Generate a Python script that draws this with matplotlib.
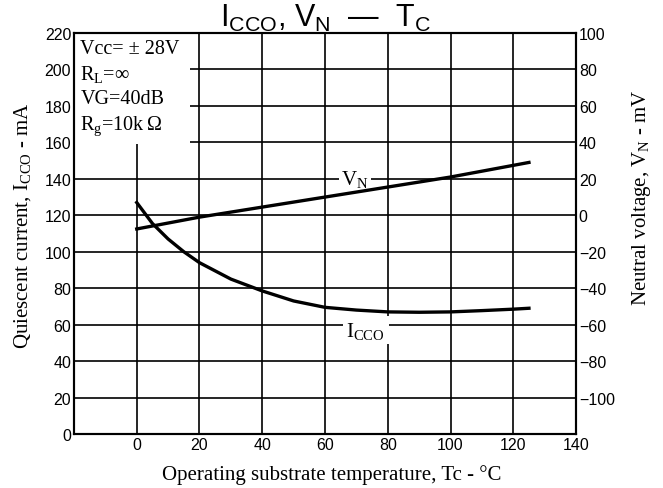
import numpy as np
import matplotlib.pyplot as plt
from matplotlib.patches import Rectangle

plt.rcParams['mathtext.fontset'] = 'custom'
plt.rcParams['mathtext.rm'] = 'Liberation Serif'
plt.rcParams['mathtext.it'] = 'Liberation Serif:italic'
plt.rcParams['mathtext.sf'] = 'Liberation Sans'

# quiescent current, mA (left axis)
temp_icco = [0, 5, 10, 15, 20, 30, 40, 50, 60, 70, 80, 90, 100, 110, 120, 125]
icco = [127, 115.5, 107, 100, 94, 85, 78.5, 73, 69.5, 68, 67, 66.8, 67, 67.7, 68.5, 69]

# neutral voltage, mV (right axis)
temp_vn = [0, 20, 40, 60, 80, 100, 125]
vn = [-7.5, -1, 4.5, 10, 15.5, 21, 29]

x_ticks = [0, 20, 40, 60, 80, 100, 120, 140]
left_ticks = list(range(0, 221, 20))
right_ticks = list(range(-100, 101, 20))

tick_font = 'Liberation Sans'
serif = 'Liberation Serif'

fig = plt.figure(figsize=(6.63, 4.89), dpi=100)
ax = fig.add_axes([0.1116, 0.1104, 0.7572, 0.820])
ax2 = ax.twinx()

ax.set_xlim(-20, 140)
ax.set_ylim(0, 220)
ax2.set_ylim(-120, 100)

ax.set_xticks(x_ticks)
ax.set_yticks(left_ticks)
ax2.set_yticks(right_ticks)
ax.set_xticklabels([str(v) for v in x_ticks], family=tick_font, fontsize=11.5)
ax.set_yticklabels([str(v) for v in left_ticks], family=tick_font, fontsize=11.5)
ax2.set_yticklabels([str(v).replace('-', '\u2212') for v in right_ticks],
                    family=tick_font, fontsize=11.5)
ax.tick_params(length=0, pad=2)
ax2.tick_params(length=0, pad=2)

# grid lines
ax.vlines(x_ticks[:-1], 0, 220, color='black', lw=1.2, zorder=0.5)
ax.hlines(left_ticks[1:-1], -20, 140, color='black', lw=1.2, zorder=0.5)

# blank area behind the conditions text
ax.add_patch(Rectangle((-20, 159), 37, 61, facecolor='white', edgecolor='none', zorder=1))

for a in (ax, ax2):
    for s in a.spines.values():
        s.set_linewidth(1.5)

ax.plot(temp_icco, icco, color='black', lw=2.4, zorder=3)
ax2.plot(temp_vn, vn, color='black', lw=2.4, zorder=3)

ax.text(-18, 217, 'Vcc= \u00b1 28V\nR$_\\mathrm{L}$=\u221e\nVG=40dB\nR$_\\mathrm{g}$=10k\u2009\u03a9',
        family=serif, fontsize=14.5, va='top', ha='left', linespacing=1.36, zorder=4)

ax.text(69.5, 140, r'V$_\mathrm{N}$', family=serif, fontsize=15, ha='center', va='center',
        bbox=dict(facecolor='white', edgecolor='none', pad=1.5), zorder=4)
ax.text(73, 57, r'I$_\mathrm{CCO}$', family=serif, fontsize=15, ha='center', va='center',
        bbox=dict(facecolor='white', edgecolor='none', pad=2.5), zorder=4)

ax.set_xlabel('Operating substrate temperature, Tc - \u00b0C', family=serif, fontsize=15)
ax.set_ylabel(r'Quiescent current, I$_\mathrm{CCO}$ - mA', family=serif, fontsize=15)
ax2.set_ylabel(r'Neutral voltage, V$_\mathrm{N}$ - mV', family=serif, fontsize=15)
ax.xaxis.set_label_coords(0.514, -0.075)
ax.yaxis.set_label_coords(-0.082, 0.521)
ax2.yaxis.set_label_coords(1.108, 0.591)

ax.set_title('$\\mathsf{I_{CCO}}$, $\\mathsf{V_N}$  \u2014  $\\mathsf{T_C}$',
             family='Liberation Sans', fontsize=22, pad=0)

fig.savefig('out.png', dpi=100)
